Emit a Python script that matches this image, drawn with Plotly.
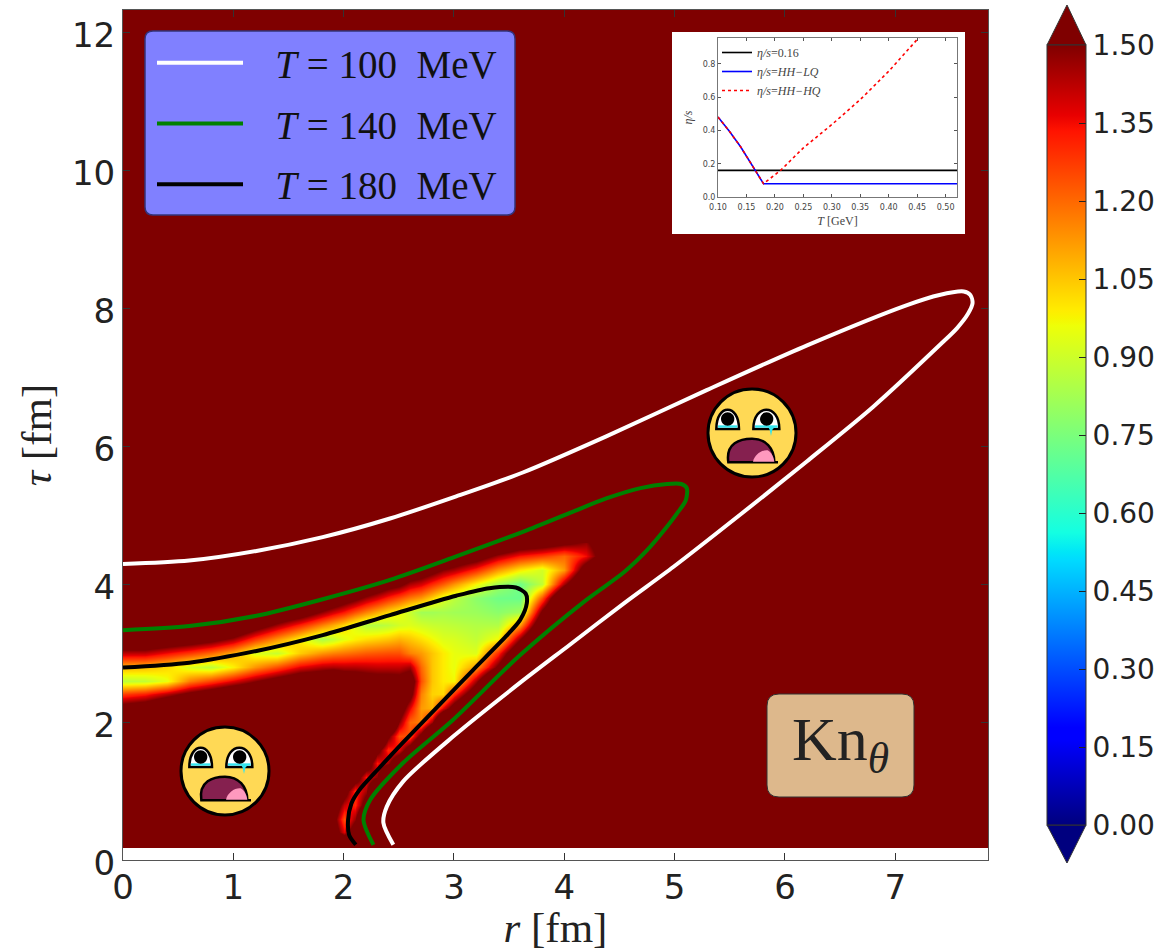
import numpy as np
import plotly.graph_objects as go

W, H = 1159, 951
# ---------- data: Kn field, one list per r column, rows follow tau_rows ----------
tau_rows = [.2,.4,.6,.8,1.0,1.2,1.4,1.6,1.8,2.0,2.2,2.4,2.6,2.8,3.0,3.2,3.4,3.6,3.8,4.0,4.2,4.4,4.6,4.8]
r_cols = [0,.2,.4,.6,.8,1.0,1.2,1.4,1.6,1.8,1.9,2.0,2.1,2.2,2.3,2.4,2.5,2.6,2.7,2.8,2.9,3.0,3.2,3.4,3.6,3.8,4.0,4.2,4.4,8.0]
kn_columns = [
 [2,2,2,2,2,2,2,2,2,2, 1.60,1.27,.87,1.08,1.42,1.75,2,2,2,2,2,2,2,2],
 [2,2,2,2,2,2,2,2,2,2, 1.66,1.32,.88,1.07,1.42,1.75,2,2,2,2,2,2,2,2],
 [2,2,2,2,2,2,2,2,2,2, 1.79,1.43,.95,1.02,1.35,1.69,2,2,2,2,2,2,2,2],
 [2,2,2,2,2,2,2,2,2,2, 1.79,1.55,1.16,.92,1.28,1.64,2,2,2,2,2,2,2,2],
 [2,2,2,2,2,2,2,2,2,2, 1.79,1.65,1.26,.87,1.20,1.57,1.9,2,2,2,2,2,2,2],
 [2,2,2,2,2,2,2,2,2,2, 1.79,1.76,1.37,.98,1.09,1.46,1.8,2,2,2,2,2,2,2],
 [2,2,2,2,2,2,2,2,2,2, 2,1.79,1.49,1.13,.93,1.28,1.62,1.9,2,2,2,2,2,2],
 [2,2,2,2,2,2,2,2,2,2, 2,1.9,1.6,1.24,.89,1.13,1.46,1.75,2,2,2,2,2,2],
 [2,2,2,2,2,2,2,2,2,2, 2,1.9,1.7,1.37,1.04,.98,1.31,1.65,1.9,2,2,2,2,2],
 [2,2,2,2,2,2,2,2,2,2, 2,2,1.72,1.43,1.13,.84,1.16,1.48,1.79,2,2,2,2,2],
 [2,1.66,1.6,1.7,2,2,2,2,2,2, 2,2,1.79,1.44,1.16,.88,1.09,1.4,1.71,1.9,2,2,2,2],
 [2,1.37,1.24,1.41,1.62,2,2,2,2,2, 2,2,1.68,1.43,1.18,.94,1.02,1.33,1.62,1.85,2,2,2,2],
 [2,1.66,1.47,1.3,1.3,1.66,1.9,2,2,2, 2,2,1.66,1.43,1.2,.98,.93,1.24,1.55,1.79,2,2,2,2],
 [2,2,2,1.62,1.45,1.33,1.7,2,2,2, 2,2,1.62,1.42,1.22,1.01,.86,1.16,1.46,1.76,2,2,2,2],
 [2,2,2,2,2,1.49,1.33,1.58,2,2, 2,2,1.6,1.41,1.23,1.03,.85,1.09,1.39,1.68,1.9,2,2,2],
 [2,2,2,2,2,2,1.45,1.3,1.54,2, 2,2,1.6,1.41,1.24,1.05,.87,1.02,1.31,1.6,1.9,2,2,2],
 [2,2,2,2,2,2,1.75,1.37,1.24,1.49, 1.66,1.75,1.58,1.41,1.24,1.08,.91,.97,1.24,1.55,1.85,2,2,2],
 [2,2,2,2,2,2,2,1.66,1.24,1.2, 1.37,1.58,1.66,1.45,1.16,1.05,.93,.89,1.17,1.44,1.7,2,2,2],
 [2,2,2,2,2,2,2,2,1.58,1.16, 1.12,1.16,1.24,1.2,1.12,1.01,.91,.82,1.12,1.39,1.66,2,2,2],
 [2,2,2,2,2,2,2,2,2,1.45, 1.08,1.03,1.05,1.05,1.05,.97,.89,.82,1.03,1.3,1.58,1.9,2,2],
 [2,2,2,2,2,2,2,2,2,2, 1.37,1.02,.99,.99,.99,.93,.88,.83,.93,1.22,1.49,1.8,2,2],
 [2,2,2,2,2,2,2,2,2,2, 1.62,1.29,.97,.95,.95,.92,.87,.82,.87,1.13,1.44,1.7,2,2],
 [2,2,2,2,2,2,2,2,2,2, 2,1.7,1.45,1.12,.93,.88,.85,.81,.78,.97,1.3,1.62,1.9,2],
 [2,2,2,2,2,2,2,2,2,2, 2,2,2,1.54,1.3,.97,.85,.78,.73,.82,1.12,1.45,1.8,2],
 [2,2,2,2,2,2,2,2,2,2, 2,2,2,2,1.8,1.49,1.12,.82,.72,.73,.99,1.33,1.66,2],
 [2,2,2,2,2,2,2,2,2,2, 2,2,2,2,2,2,1.75,1.54,1.24,.88,.91,1.27,1.62,2],
 [2,2,2,2,2,2,2,2,2,2, 2,2,2,2,2,2,2,2,1.9,1.45,1.12,1.2,1.54,2],
 [2,2,2,2,2,2,2,2,2,2, 2,2,2,2,2,2,2,2,2,1.9,1.66,1.35,1.47,1.9],
 [2,2,2,2,2,2,2,2,2,2, 2,2,2,2,2,2,2,2,2,2,2,1.7,1.7,2],
 [2]*24,
]
# isotherms (r, tau)
r_100 = [0,.60,1.21,1.81,2.42,3.02,3.63,4.38,5.29,6.20,7.10,7.40,7.62,7.68,7.70,7.66,7.56,7.40,6.80,6.20,5.59,4.99,4.54,4.05,3.60,3.0,2.54,2.39,2.36,2.45]
t_100 = [4.29,4.34,4.48,4.68,4.95,5.27,5.62,6.14,6.81,7.46,8.04,8.19,8.24,8.19,8.07,7.92,7.71,7.46,6.57,5.78,5.0,4.25,3.72,3.12,2.57,1.80,1.14,.77,.54,.22]
r_140 = [0,.60,1.21,1.81,2.42,3.02,3.63,4.08,4.38,4.69,4.93,5.06,5.11,5.10,5.02,4.93,4.75,4.54,4.20,3.60,2.99,2.54,2.24,2.18,2.27]
t_140 = [3.33,3.39,3.54,3.78,4.06,4.40,4.76,5.05,5.24,5.39,5.45,5.45,5.39,5.21,5.02,4.83,4.49,4.17,3.77,2.97,2.03,1.41,.87,.58,.22]
r_180 = [0,.60,1.21,1.81,2.42,3.02,3.32,3.56,3.65,3.66,3.60,3.47,3.17,2.99,2.53,2.32,2.14,2.07,2.04,2.05,2.11]
t_180 = [2.79,2.86,3.03,3.26,3.55,3.83,3.94,3.95,3.86,3.72,3.48,3.24,2.75,2.45,1.69,1.33,1.01,.82,.58,.36,.22]
# inset
T_line = [.10,.12,.14,.16,.18,.52]
eta_lq = [.48,.395,.30,.19,.08,.08]
T_hq = [.10,.12,.14,.16,.18,.21,.25,.30,.35,.40,.45,.455]
eta_hq = [.48,.395,.30,.19,.08,.16,.295,.435,.585,.755,.945,.965]
eta_const = [.16,.16,.16,.16,.16,.16]
cbar_ticks = [0,.15,.30,.45,.60,.75,.90,1.05,1.20,1.35,1.50]

jet = [[0,'#00007f'],[.11,'#0000ff'],[.125,'#0000ff'],[.34,'#00dbff'],[.35,'#00e6f7'],[.375,'#14ffe2'],
       [.64,'#eeff08'],[.65,'#f7f500'],[.66,'#ffec00'],[.89,'#ff1300'],[.91,'#e80000'],[1,'#7f0000']]

def X(p): return p / W
def Y(p): return 1 - p / H
def P(x, y): return f"{X(x):.5f},{Y(y):.5f}"

def rrect(x0, y0, x1, y1, r):
    return (f"M{P(x0+r,y0)} L{P(x1-r,y0)} Q{P(x1,y0)} {P(x1,y0+r)} L{P(x1,y1-r)} Q{P(x1,y1)} {P(x1-r,y1)} "
            f"L{P(x0+r,y1)} Q{P(x0,y1)} {P(x0,y1-r)} L{P(x0,y0+r)} Q{P(x0,y0)} {P(x0+r,y0)} Z")

def circ(cx, cy, r):
    k = .5523 * r
    return (f"M{P(cx+r,cy)} C{P(cx+r,cy+k)} {P(cx+k,cy+r)} {P(cx,cy+r)} C{P(cx-k,cy+r)} {P(cx-r,cy+k)} {P(cx-r,cy)} "
            f"C{P(cx-r,cy-k)} {P(cx-k,cy-r)} {P(cx,cy-r)} C{P(cx+k,cy-r)} {P(cx+r,cy-k)} {P(cx+r,cy)} Z")

def sh(path, fill, lc='rgba(0,0,0,0)', lw=0):
    return dict(type='path', xref='paper', yref='paper', path=path, fillcolor=fill,
                line=dict(color=lc, width=lw), layer='above')

def face(cx, cy):
    o = lambda a, b: P(cx + (a-165)/3, cy + (b-155)/3)
    out = [sh(circ(cx, cy, 44), '#FFD955', 'black', 3)]
    for x0, x1, px, pr in [(58,126,92,20),(169,247,209,20)]:
        eye = f"M{o(x0,143)} C{o(x0,66)} {o(x1,66)} {o(x1,143)} Z"
        out.append(sh(eye, 'white', 'black', 2.5))
        out.append(sh(f"M{o(x0+5,132)} L{o(x1-5,132)} L{o(x1-5,139)} L{o(x0+5,139)} Z", '#33E5F0'))
        out.append(sh(circ(cx+(px-165)/3, cy+(113-155)/3, pr/3), 'black'))
    out.append(sh(f"M{o(212,134)} L{o(236,134)} L{o(226,145)} L{o(222,164)} L{o(218,145)} Z", '#33E5F0'))
    out.append(sh(f"M{o(94,243)} C{o(85,185)} {o(130,172)} {o(165,172)} C{o(205,172)} {o(232,200)} {o(232,243)} L{o(243,243)} Z",
                  '#85204F', 'black', 2.5))
    out.append(sh(f"M{o(168,241)} C{o(172,220)} {o(195,205)} {o(212,207)} C{o(225,215)} {o(230,228)} {o(232,241)} Z", '#FF99BE'))
    return out

z = np.array(kn_columns, dtype=float).T
z_full = np.vstack([z[0], z, np.full(z.shape[1], 2.0)])
y_full = [.18] + tau_rows + [12.6]

fig = go.Figure()
fig.add_trace(go.Heatmap(x=r_cols, y=y_full, z=z_full, zmin=0, zmax=1.5, colorscale=jet, zsmooth='best',
    hoverinfo='skip', showscale=True,
    colorbar=dict(x=X(1047), xanchor='left', y=Y(435), yanchor='middle', lenmode='pixels', len=780,
                  thicknessmode='pixels', thickness=39, xpad=0, ypad=0, tickmode='array', tickvals=cbar_ticks,
                  ticktext=[f"{v:.2f}" for v in cbar_ticks], ticks='inside', ticklen=7, tickcolor='#222',
                  ticklabeloverflow='allow', tickfont=dict(family='DejaVu Sans', size=28, color='#222'),
                  outlinecolor='#333', outlinewidth=1, borderwidth=0)))
serif = 'Liberation Serif'
for rr, tt, c, nm in [(r_100,t_100,'white','100'),(r_140,t_140,'green','140'),(r_180,t_180,'black','180')]:
    fig.add_trace(go.Scatter(x=rr, y=tt, mode='lines', line=dict(color=c, width=4, shape='spline', smoothing=.8),
        name=f"\u00a0\u00a0\u2009<i>T</i> = {nm} \u00a0MeV", legendgroup=nm, legend='legend', hoverinfo='skip'))

# white inset backing
fig.add_trace(go.Scatter(x=[0,1,1,0,0], y=[0,0,1,1,0], xaxis='x2', yaxis='y2', mode='lines', fill='toself',
    fillcolor='white', line=dict(width=0, color='white'), showlegend=False, hoverinfo='skip'))
# inset lines
ilw = 1.6
fig.add_trace(go.Scatter(x=[T_line[0],T_line[-1]], y=[eta_const[0],eta_const[-1]], xaxis='x3', yaxis='y3', mode='lines',
    line=dict(color='black', width=ilw), name='<i>η/s</i>=0.16', legend='legend2', legendgroup='a', hoverinfo='skip'))
fig.add_trace(go.Scatter(x=T_line, y=eta_lq, xaxis='x3', yaxis='y3', mode='lines',
    line=dict(color='blue', width=ilw), name='<i>η/s</i>=<i>HH−LQ</i>', legend='legend2', legendgroup='b', hoverinfo='skip'))
fig.add_trace(go.Scatter(x=T_hq, y=eta_hq, xaxis='x3', yaxis='y3', mode='lines',
    line=dict(color='red', width=ilw, dash='3px,3px'), name='<i>η/s</i>=<i>HH−HQ</i>', legend='legend2', legendgroup='c', hoverinfo='skip'))

frame = '#555'
ax_font = dict(family='DejaVu Sans', size=34, color='#222')
ins_font = dict(family='DejaVu Sans', size=8, color='#444')
layout = dict(
    margin=dict(l=0, r=0, t=0, b=0, autoexpand=False), width=W, height=H, paper_bgcolor='white', plot_bgcolor='white',
    xaxis=dict(domain=[X(123), X(988)], range=[0, 7.84], tickvals=list(range(8)), ticks='inside', ticklen=7, tickcolor='#333',
               showgrid=False, zeroline=False, showline=True, linecolor=frame, mirror='allticks', tickfont=ax_font, ticklabelstandoff=-3,
               title=dict(text='<i>r</i> [fm]', font=dict(family=serif, size=43, color='#222'), standoff=3)),
    yaxis=dict(domain=[Y(860), Y(10)], range=[0, 12.32], tickvals=list(range(0, 13, 2)), ticks='inside', ticklen=7, tickcolor='#333',
               showgrid=False, zeroline=False, showline=True, linecolor=frame, mirror='allticks', tickfont=ax_font, ticklabelshift=3,
               title=dict(text='<i>τ</i> [fm]', font=dict(family=serif, size=43, color='#222'), standoff=6)),
    xaxis2=dict(domain=[X(672), X(965)], range=[0,1], visible=False, anchor='y2'),
    yaxis2=dict(domain=[Y(234), Y(32)], range=[0,1], visible=False, anchor='x2'),
    xaxis3=dict(domain=[X(718), X(957)], range=[.10,.52], anchor='y3', tickvals=[.10,.15,.20,.25,.30,.35,.40,.45,.50], tickformat='.2f',
                ticks='inside', ticklen=3, tickcolor='#555', showgrid=False, zeroline=False, showline=True, linecolor='#777', mirror='allticks',
                tickfont=ins_font, ticklabelstandoff=2, title=dict(text='<i>T</i> [GeV]', font=dict(family=serif, size=12, color='#444'), standoff=6)),
    yaxis3=dict(domain=[Y(197), Y(38)], range=[0,.955], anchor='x3', tickvals=[0,.2,.4,.6,.8], tickformat='.1f',
                ticks='inside', ticklen=3, tickcolor='#555', showgrid=False, zeroline=False, showline=True, linecolor='#777', mirror='allticks',
                tickfont=ins_font, title=dict(text='<i>η/s</i>', font=dict(family=serif, size=12, color='#444'), standoff=7)),
    legend=dict(x=X(152), y=Y(31), xanchor='left', yanchor='top', bgcolor='rgba(0,0,0,0)', borderwidth=0, itemwidth=86,
                font=dict(family=serif, size=39, color='#111'), tracegroupgap=7, traceorder='grouped'),
    legend2=dict(x=X(717), y=Y(38), xanchor='left', yanchor='top', bgcolor='rgba(0,0,0,0)', borderwidth=0, itemwidth=30,
                 font=dict(family=serif, size=12, color='#444'), tracegroupgap=0, traceorder='grouped'),
    annotations=[dict(xref='paper', yref='paper', x=X(840), y=Y(743), xanchor='center', yanchor='middle', showarrow=False,
                      text='Kn<sub><i>θ</i></sub>', font=dict(family=serif, size=62, color='#222'))],
    shapes=[
        sh(rrect(145, 31, 515, 215, 8), '#8080FF', '#33337a', 1.5),
        sh(rrect(767, 694, 914, 797, 12), '#DDB88C', '#333', 1),
        sh(f"M{P(1047,45)} L{P(1086,45)} L{P(1067,5)} Z", '#7f0000', '#333', 1),
        sh(f"M{P(1047,825)} L{P(1086,825)} L{P(1067,863)} Z", '#00007f', '#333', 1),
    ] + face(752, 433) + face(225, 771),
    showlegend=True,
)
fig.update_layout(**layout)
fig.write_html("out.html", config={'displayModeBar': False}, post_script="document.body.style.margin='0';")
